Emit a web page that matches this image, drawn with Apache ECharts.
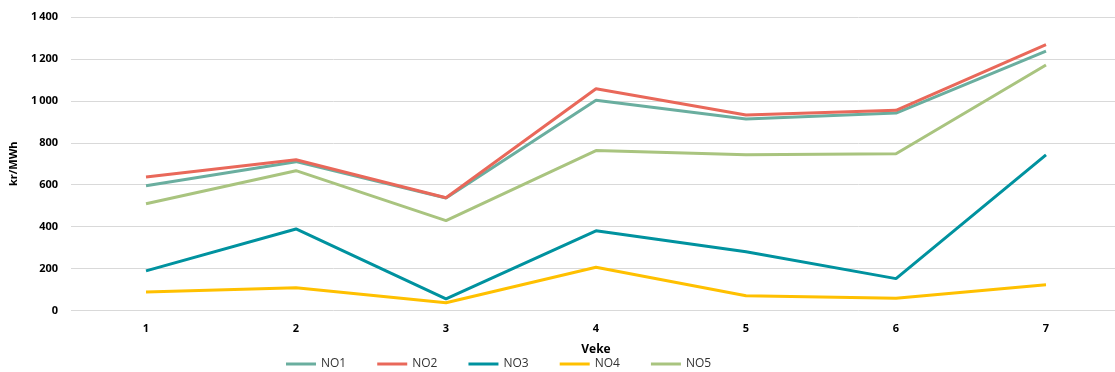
<!DOCTYPE html>
<html>
<head>
<meta charset="utf-8">
<script src="https://cdn.jsdelivr.net/npm/echarts@6/dist/echarts.min.js"></script>
<style>
  html, body { margin: 0; padding: 0; background: #fff; overflow: hidden; }
  /* the plot runs a few pixels past the right edge of the window */
  #chart { width: 1121px; height: 372px; }
</style>
</head>
<body>
<div id="chart"></div>
<script>
// Weekly area prices, kr/MWh
const weeks = ['1', '2', '3', '4', '5', '6', '7'];
const no1 = [595, 710, 537, 1003, 913, 942, 1237];
const no2 = [637, 719, 538, 1058, 933, 955, 1268];
const no3 = [189, 389, 55, 380, 280, 152, 742];
const no4 = [88, 108, 37, 206, 70, 58, 123];
const no5 = [509, 667, 429, 763, 743, 748, 1171];

const seriesNames = ['NO1', 'NO2', 'NO3', 'NO4', 'NO5'];
const seriesData = [no1, no2, no3, no4, no5];
const colors = ['#6aae9f', '#e9685a', '#00929f', '#ffc000', '#a9c47f'];

const font = '"Open Sans", "Noto Sans", sans-serif';

const chart = echarts.init(document.getElementById('chart'), null, { renderer: 'canvas' });

chart.setOption({
  animation: false,
  textStyle: { fontFamily: font },
  color: colors,
  grid: { left: 71, top: 17, width: 1050, height: 293.5, containLabel: false },
  legend: {
    bottom: 2,
    left: 286,
    padding: 0,
    itemWidth: 30,
    itemHeight: 3,
    itemGap: 31,
    icon: 'rect',
    textStyle: { fontFamily: font, fontSize: 12, color: '#333' },
    data: seriesNames
  },
  xAxis: {
    type: 'category',
    data: weeks,
    boundaryGap: true,
    name: 'Veke',
    nameLocation: 'middle',
    nameGap: 33,
    nameTextStyle: { fontFamily: font, fontSize: 12, fontWeight: 'bold', color: '#000' },
    axisLine: { show: false },
    axisTick: { show: false },
    axisLabel: { fontFamily: font, fontSize: 11, fontWeight: 'bold', color: '#000', margin: 13 }
  },
  yAxis: {
    type: 'value',
    min: 0,
    max: 1400,
    interval: 200,
    name: 'kr/MWh',
    nameLocation: 'middle',
    nameGap: 52,
    nameRotate: 90,
    nameTextStyle: { fontFamily: font, fontSize: 11, fontWeight: 'bold', color: '#000' },
    axisLine: { show: false },
    axisTick: { show: false },
    axisLabel: {
      fontFamily: font, fontSize: 11, fontWeight: 'bold', color: '#000', margin: 13,
      formatter: v => String(v).replace(/\B(?=(\d{3})+(?!\d))/g, '\u2009')
    },
    splitLine: { lineStyle: { color: '#d9d9d9', width: 1 } }
  },
  series: seriesNames.map((name, i) => ({
    name,
    type: 'line',
    data: seriesData[i],
    symbol: 'none',
    lineStyle: { width: 3, color: colors[i] },
    itemStyle: { color: colors[i] }
  }))
});
</script>
</body>
</html>
